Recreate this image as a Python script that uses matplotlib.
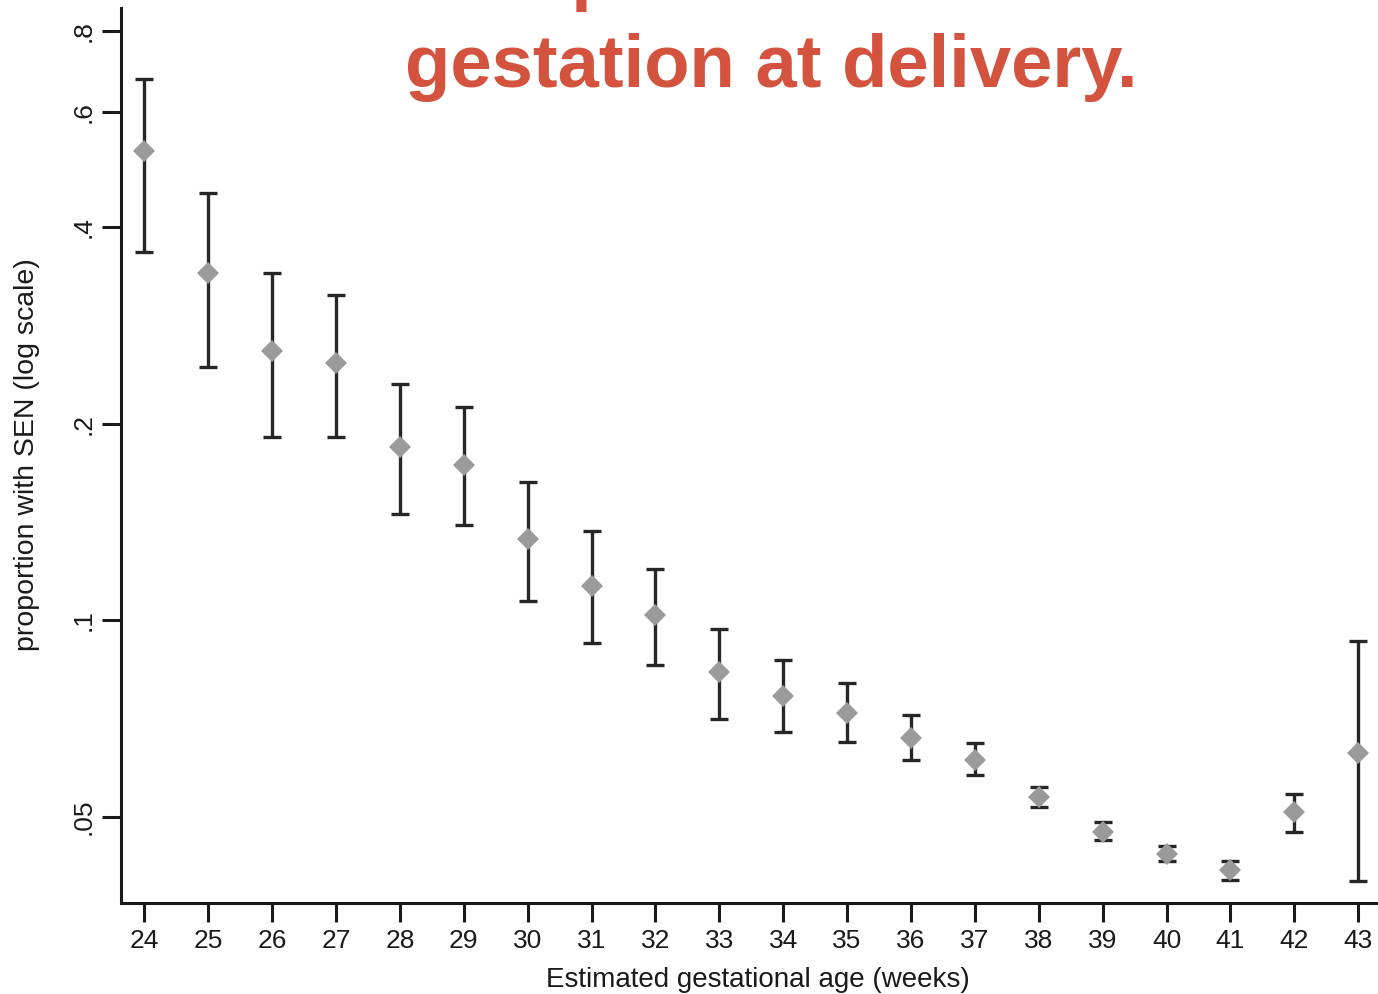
import matplotlib
matplotlib.use("Agg")
import matplotlib.pyplot as plt
from matplotlib.ticker import NullLocator

plt.rcParams['font.family'] = ['Liberation Sans', 'DejaVu Sans']

# Gestational age at delivery (weeks)
weeks = [24, 25, 26, 27, 28, 29, 30, 31, 32, 33, 34, 35, 36, 37, 38, 39, 40, 41, 42, 43]
# Proportion with special educational need, with 95% confidence limits
prop = [0.523, 0.340, 0.259, 0.248, 0.184, 0.173, 0.133, 0.113, 0.102, 0.0832,
        0.0767, 0.0722, 0.0661, 0.0612, 0.0537, 0.0474, 0.0438, 0.0415, 0.0509, 0.0627]
ci_hi = [0.675, 0.451, 0.341, 0.315, 0.230, 0.212, 0.163, 0.137, 0.120, 0.0971,
         0.0868, 0.0803, 0.0717, 0.0649, 0.0556, 0.0491, 0.0451, 0.0428, 0.0542, 0.0929]
ci_lo = [0.367, 0.244, 0.191, 0.191, 0.1455, 0.140, 0.107, 0.0923, 0.0853, 0.0705,
         0.0675, 0.0652, 0.0612, 0.058, 0.0518, 0.0461, 0.0428, 0.0400, 0.0474, 0.0399]

y_ticks = [0.05, 0.1, 0.2, 0.4, 0.6, 0.8]
y_ticklabels = [".05", ".1", ".2", ".4", ".6", ".8"]

title_lines = ["Proportion with SEN", "gestation at delivery."]
x_label = "Estimated gestational age (weeks)"
y_label = "proportion with SEN (log scale)"

W, H = 1378, 994
fig = plt.figure(figsize=(W / 100, H / 100), dpi=100)
ax = fig.add_axes([121 / W, (H - 903) / H, 1 - 121 / W, (903 - 8) / H])

err_lo = [p - l for p, l in zip(prop, ci_lo)]
err_hi = [h - p for p, h in zip(prop, ci_hi)]
ax.errorbar(weeks, prop, yerr=[err_lo, err_hi], fmt='none', ecolor='#262626',
            elinewidth=2.4, capsize=6.5, capthick=2.4, zorder=2)
ax.plot(weeks, prop, linestyle='none', marker='D', markersize=11,
        color='#9a9a9a', markeredgewidth=0, zorder=3)

ax.set_yscale('log')
ax.set_xlim(23.635, 43.31)
ax.set_ylim(0.0369, 0.867)
ax.yaxis.set_minor_locator(NullLocator())
ax.set_yticks(y_ticks)
ax.set_yticklabels(y_ticklabels, rotation=90, va='center')
ax.set_xticks(weeks)
ax.set_xticklabels([str(w) for w in weeks])

for side in ('top', 'right'):
    ax.spines[side].set_visible(False)
for side in ('left', 'bottom'):
    ax.spines[side].set_linewidth(2.2)
    ax.spines[side].set_color('#1a1a1a')

ax.tick_params(axis='both', which='major', direction='out', length=14, width=2.2,
               color='#1a1a1a', labelsize=19, labelcolor='#1a1a1a')
ax.tick_params(axis='x', pad=5)
ax.tick_params(axis='y', pad=4)

# Axis titles placed in figure pixels
fig.text(758 / W, 1 - 980 / H, x_label, fontsize=20, color='#1a1a1a',
         ha='center', va='center')
fig.text(27 / W, 1 - 455 / H, y_label, fontsize=20.5, color='#1a1a1a',
         ha='center', va='center', rotation=90)

title_color = '#d3533e'
fig.text(446 / W, 1 - (-3) / H, title_lines[0], fontsize=54, fontweight='bold',
         color=title_color, ha='left', va='baseline')
fig.text(405 / W, 1 - 87 / H, title_lines[1], fontsize=53.5, fontweight='bold',
         color=title_color, ha='left', va='baseline')

fig.savefig("out.png", dpi=100, facecolor='white')
